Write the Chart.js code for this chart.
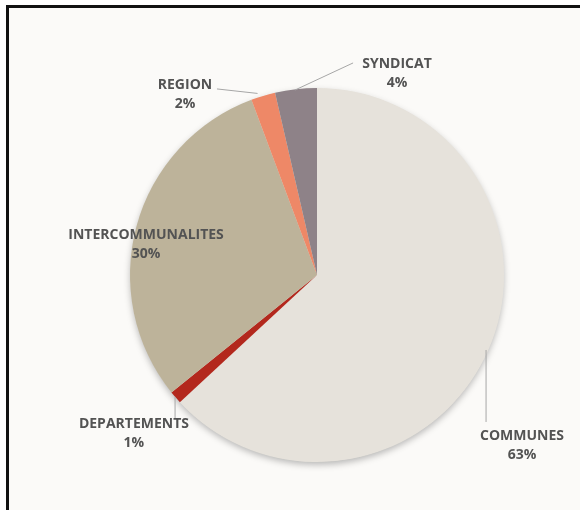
<!DOCTYPE html>
<html>
<head>
<meta charset="utf-8">
<script src="https://cdn.jsdelivr.net/npm/chart.js@4"></script>
<style>
  html, body { margin: 0; padding: 0; background: #ffffff; width: 580px; height: 510px; overflow: hidden; }
  #frame { position: absolute; left: 6px; top: 5px; width: 620px; height: 560px;
           border-left: 3px solid #111; border-top: 3px solid #111; background: #fbfaf8; }
  #wrap { position: absolute; left: 0; top: 0; width: 580px; height: 510px; }
</style>
</head>
<body>
<div id="frame"></div>
<div id="wrap"><canvas id="c" width="580" height="510"></canvas></div>
<script>
// ---- data ----
const categories = ['COMMUNES', 'DEPARTEMENTS', 'INTERCOMMUNALITES', 'REGION', 'SYNDICAT'];
const shares = [63.1, 1.1, 30.1, 2.1, 3.6];
const colors = ['#e6e2db', '#b3281d', '#bdb39a', '#ee8867', '#8e8288'];

// label layout (relative to pie centre, in radius units)
const labelPos = [[1.096, 0.860], [-0.979, 0.795], [-0.914, -0.212], [-0.706, -1.014], [0.428, -1.130]];
const leaderLines = [
  [[0.904, 0.401], [0.904, 0.786]],
  [[-0.759, 0.652], [-0.759, 0.765]],
  null,
  [[-0.535, -0.995], [-0.318, -0.971]],
  [[-0.118, -0.989], [0.193, -1.134]]
];

const shadowPlugin = {
  id: 'pieShadow',
  beforeDatasetsDraw(chart) {
    const arc = chart.getDatasetMeta(0).data[0];
    if (!arc) return;
    const ctx = chart.ctx;
    ctx.save();
    ctx.shadowColor = 'rgba(0,0,0,0.28)';
    ctx.shadowBlur = 7;
    ctx.shadowOffsetY = 3;
    ctx.fillStyle = '#e6e2db';
    ctx.beginPath();
    ctx.arc(arc.x, arc.y, arc.outerRadius - 0.5, 0, Math.PI * 2);
    ctx.fill();
    ctx.restore();
  }
};

const labelPlugin = {
  id: 'sliceLabels',
  afterDatasetsDraw(chart) {
    const meta = chart.getDatasetMeta(0);
    const arc0 = meta.data[0];
    if (!arc0) return;
    const cx = arc0.x, cy = arc0.y, r = arc0.outerRadius;
    const ctx = chart.ctx;
    const total = shares.reduce((a, b) => a + b, 0);
    ctx.save();
    ctx.strokeStyle = '#a6a6a6';
    ctx.lineWidth = 1;
    leaderLines.forEach(l => {
      if (!l) return;
      ctx.beginPath();
      ctx.moveTo(cx + l[0][0] * r, cy + l[0][1] * r);
      ctx.lineTo(cx + l[1][0] * r, cy + l[1][1] * r);
      ctx.stroke();
    });
    ctx.fillStyle = '#535353';
    ctx.font = 'bold 14px "Open Sans", sans-serif';
    ctx.textAlign = 'center';
    ctx.textBaseline = 'middle';
    categories.forEach((name, i) => {
      const x = cx + labelPos[i][0] * r;
      const y = cy + labelPos[i][1] * r;
      const pct = Math.round(shares[i] / total * 100) + '%';
      ctx.fillText(name, x, y);
      ctx.fillText(pct, x, y + 19);
    });
    ctx.restore();
  }
};

new Chart(document.getElementById('c'), {
  type: 'pie',
  data: {
    labels: categories,
    datasets: [{
      data: shares,
      backgroundColor: colors,
      borderWidth: 0,
      hoverOffset: 0
    }]
  },
  options: {
    responsive: false,
    animation: false,
    layout: { padding: { left: 130, right: 76, top: 88, bottom: 48 } },
    plugins: { legend: { display: false }, tooltip: { enabled: false } }
  },
  plugins: [shadowPlugin, labelPlugin]
});
</script>
</body>
</html>
